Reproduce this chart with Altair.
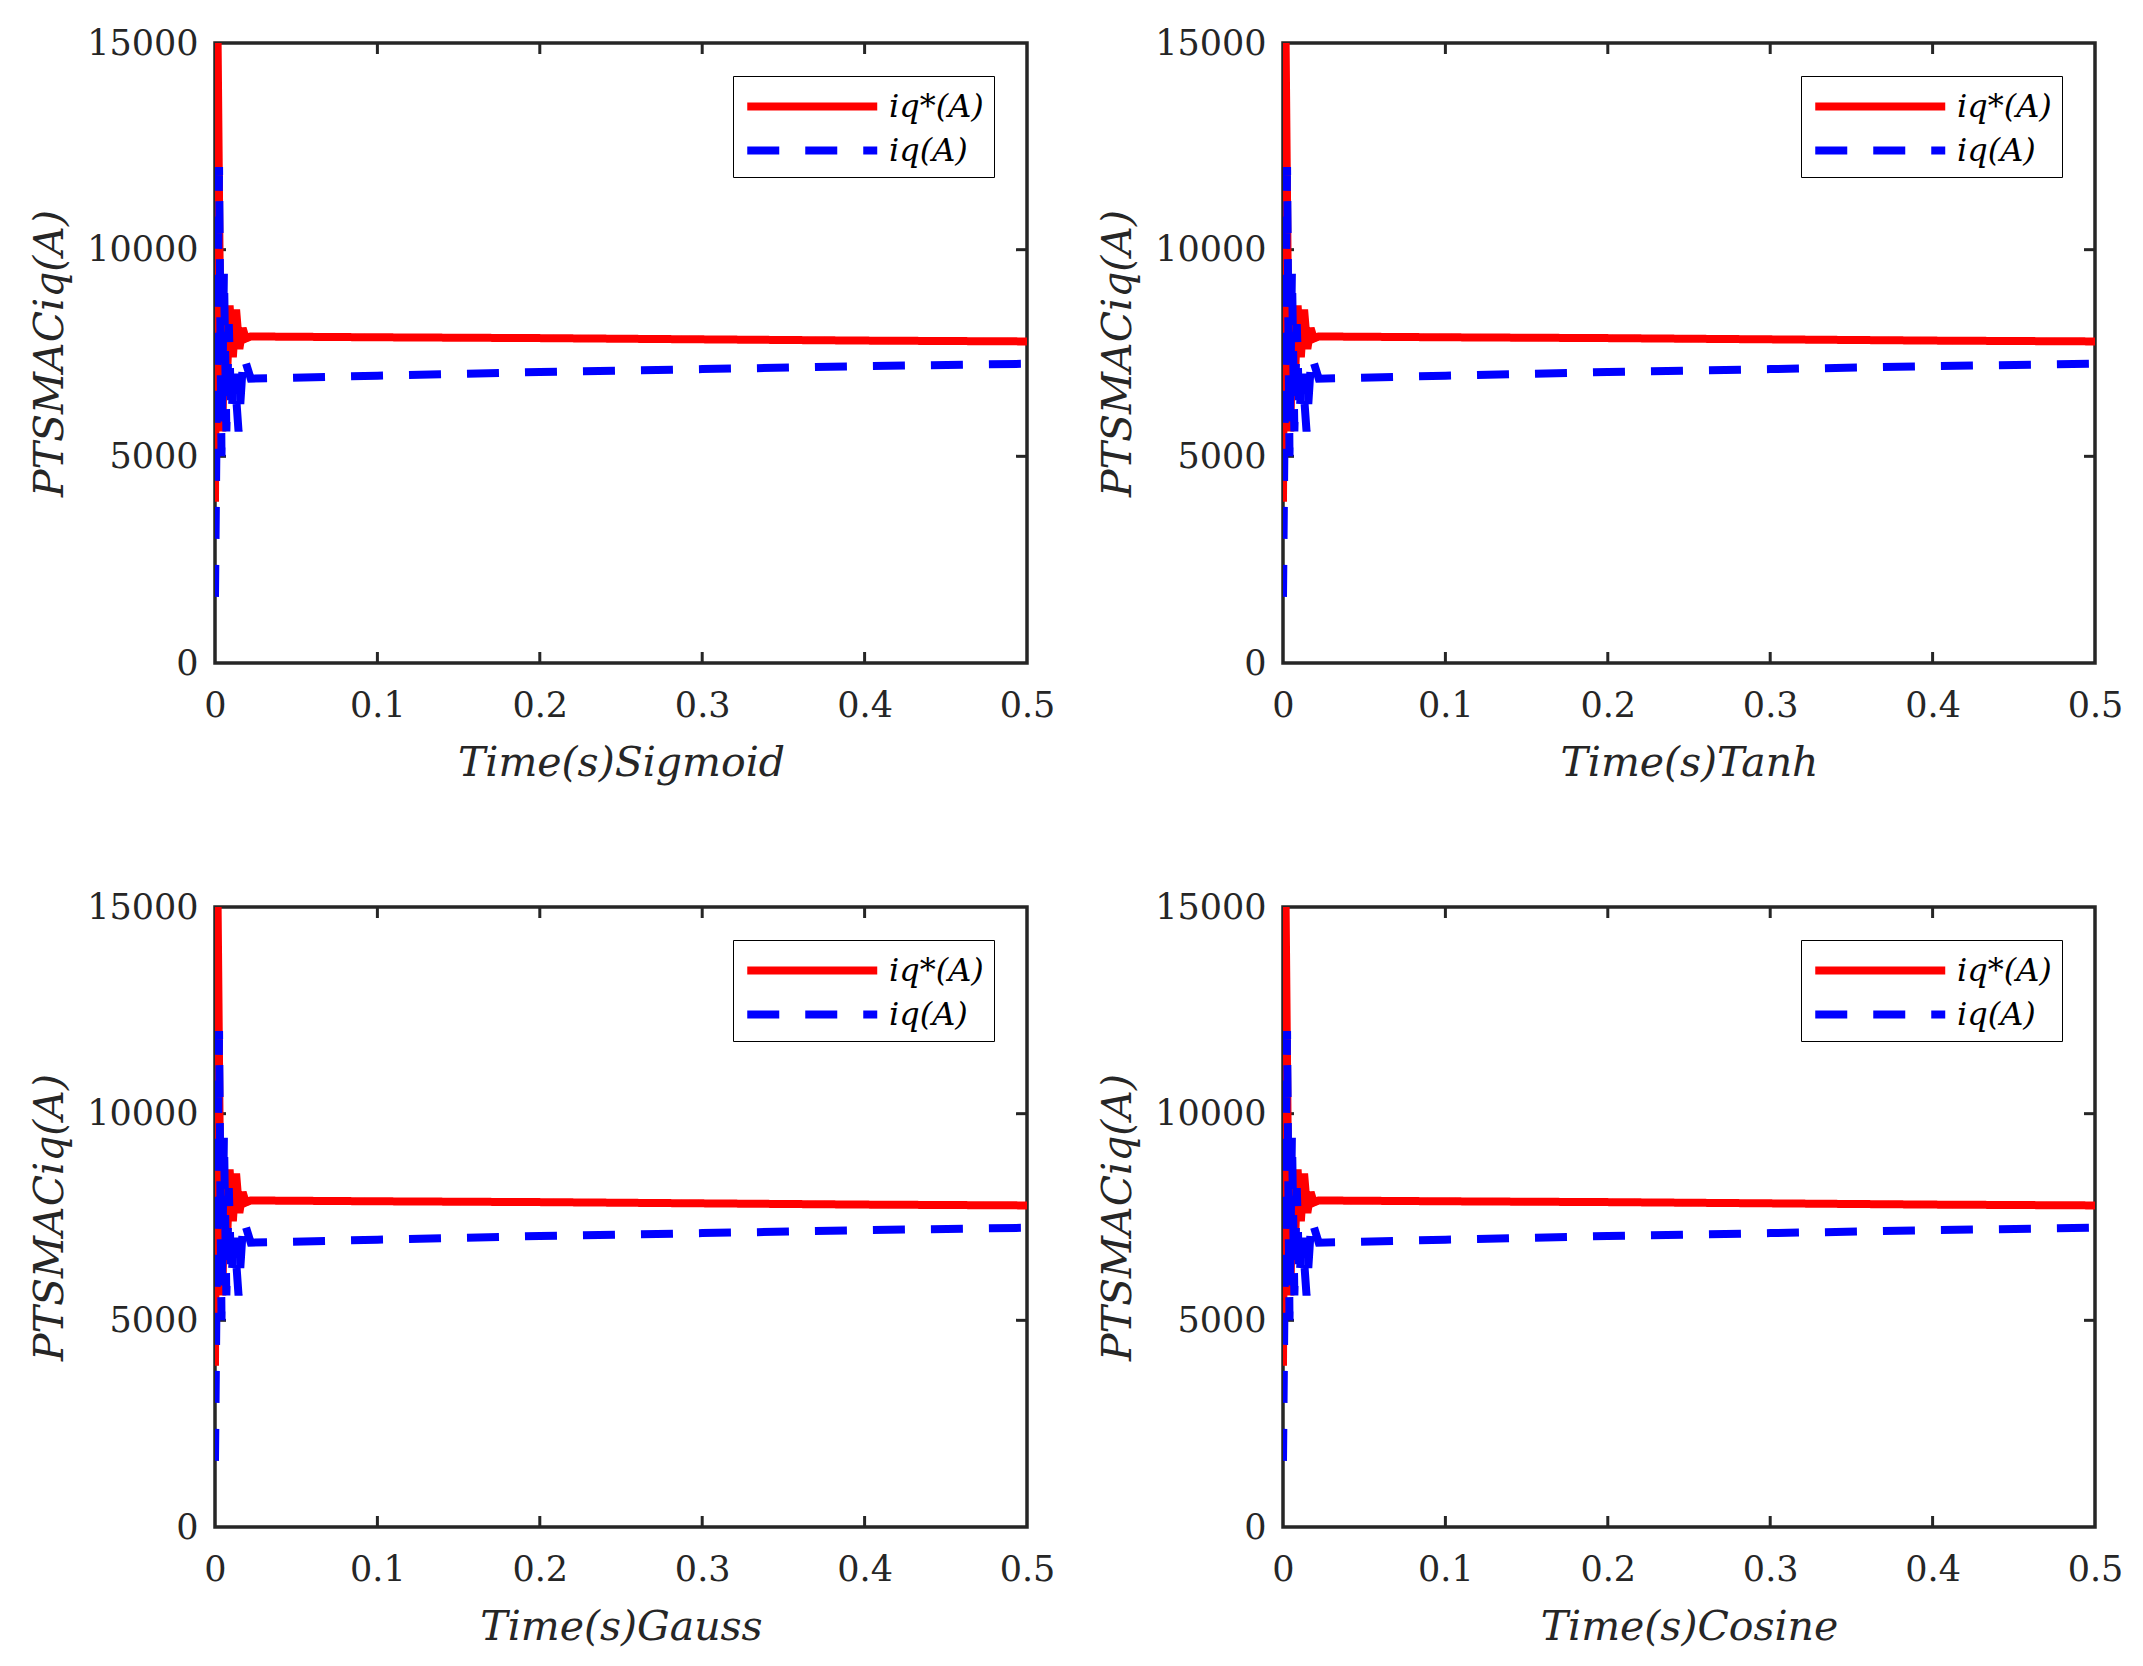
import pandas as pd
import altair as alt

# transient + steady state (same curves in every panel)
t_ref = [0, 0.0015, 0.003, 0.0045, 0.006, 0.0075, 0.009, 0.011, 0.013, 0.015,
         0.017, 0.019, 0.022, 0.1, 0.2, 0.3, 0.4, 0.5]
iq_ref = [3900, 15500, 9000, 5600, 8600, 7000, 8650, 7400, 8550, 7600,
          8100, 7850, 7900, 7880, 7860, 7830, 7800, 7780]

t_act = [0, 0.0025, 0.004, 0.0055, 0.007, 0.0085, 0.010, 0.012, 0.0145, 0.0175,
         0.022, 0.1, 0.2, 0.3, 0.4, 0.5]
iq_act = [1600, 12000, 5000, 9500, 5600, 8200, 6000, 7000, 5600, 7450,
          6880, 6950, 7040, 7110, 7180, 7240]

panels = ['Sigmoid', 'Tanh', 'Gauss', 'Cosine']
series = ['iq*(A)', 'iq(A)']
x_ticks = [0, 0.1, 0.2, 0.3, 0.4, 0.5]
y_ticks = [0, 5000, 10000, 15000]

df = pd.concat([
    pd.DataFrame({'t': t_ref, 'iq': iq_ref, 'series': series[0]}),
    pd.DataFrame({'t': t_act, 'iq': iq_act, 'series': series[1]}),
])
xt = pd.DataFrame({'t': x_ticks[1:-1]})
yt = pd.DataFrame({'v': y_ticks[1:-1]})

W = 812
H = 620
FONT = 'DejaVu Serif, serif'
INK = '#262626'

xscale = alt.Scale(domain=[0, 0.5], nice=False)
yscale = alt.Scale(domain=[0, 15000], nice=False, zero=False)

legend = alt.Legend(orient='top-right', offset=33, title=None,
                    strokeColor='black', fillColor='white',
                    padding=10, rowPadding=7,
                    symbolType='M-1,0H7', symbolSize=1056,
                    symbolStrokeWidth=8, labelOffset=105,
                    labelFont=FONT, labelFontSize=32,
                    labelFontStyle='italic', labelColor='black')


def panel(name):
    lines = alt.Chart(df).mark_line(strokeWidth=8, clip=True).encode(
        alt.X('t:Q', scale=xscale,
              title='Time(s)' + name,
              axis=alt.Axis(values=x_ticks, format='.1~f', grid=False,
                            domain=False, ticks=False, labelFlush=False,
                            labelPadding=25, titlePadding=20)),
        alt.Y('iq:Q', scale=yscale,
              title='PTSMACiq(A)',
              axis=alt.Axis(values=y_ticks, format='d', grid=False,
                            domain=False, ticks=False, labelFlush=False,
                            labelPadding=17, titlePadding=15)),
        color=alt.Color('series:N',
                        scale=alt.Scale(domain=series, range=['#ff0000', '#0000ff']),
                        legend=legend),
        strokeDash=alt.StrokeDash('series:N',
                                  scale=alt.Scale(domain=series, range=[[1, 0], [32, 26]]),
                                  legend=legend),
    )

    # matlab style inward ticks on all four sides
    bx = alt.Chart(xt).mark_rule(color=INK, strokeWidth=3).encode(
        x=alt.X('t:Q', scale=xscale), y=alt.value(H), y2=alt.value(H - 11))
    tx = alt.Chart(xt).mark_rule(color=INK, strokeWidth=3).encode(
        x=alt.X('t:Q', scale=xscale), y=alt.value(0), y2=alt.value(11))
    ly = alt.Chart(yt).mark_rule(color=INK, strokeWidth=3).encode(
        y=alt.Y('v:Q', scale=yscale), x=alt.value(0), x2=alt.value(11))
    ry = alt.Chart(yt).mark_rule(color=INK, strokeWidth=3).encode(
        y=alt.Y('v:Q', scale=yscale), x=alt.value(W - 11), x2=alt.value(W))

    return alt.layer(bx, tx, ly, ry, lines).properties(width=W, height=H)


top = alt.hconcat(panel(panels[0]), panel(panels[1]), spacing=38).resolve_scale(
    color='independent', strokeDash='independent')
bottom = alt.hconcat(panel(panels[2]), panel(panels[3]), spacing=38).resolve_scale(
    color='independent', strokeDash='independent')

chart = alt.vconcat(top, bottom, spacing=103).resolve_scale(
    color='independent', strokeDash='independent'
).properties(
    padding={'top': 16, 'left': 19, 'right': 5, 'bottom': 5}
).configure_view(
    stroke=INK, strokeWidth=3.5
).configure_axis(
    labelFont=FONT, labelFontSize=35, labelColor=INK,
    titleFont=FONT, titleFontSize=41, titleFontStyle='italic',
    titleFontWeight='normal', titleColor=INK
)

chart.save("out.html", embed_options={"renderer": "svg", "actions": False})
